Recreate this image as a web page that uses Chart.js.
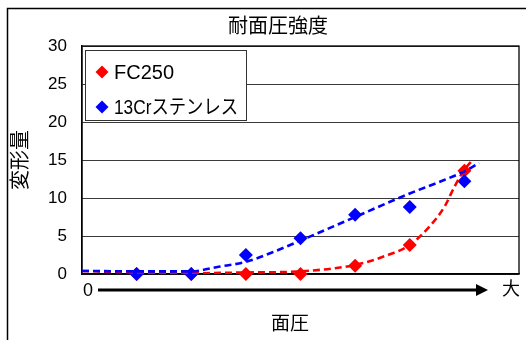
<!DOCTYPE html>
<html>
<head>
<meta charset="utf-8">
<script src="https://cdn.jsdelivr.net/npm/chart.js@4/dist/chart.umd.min.js"></script>
<style>
  html, body { margin: 0; padding: 0; background: #fff; }
  #wrap { width: 526px; height: 340px; }
</style>
</head>
<body>
<div id="wrap"><canvas id="c" width="526" height="340"></canvas></div>
<script>
// Pressure steps (x) and measured deformation (y)
const pressureSteps = [1, 2, 3, 4, 5, 6, 7];
const fc250Values   = [0, 0, 0, 0, 1.1, 3.8, 13.6];
const sus13crValues = [0, 0, 2.5, 4.7, 7.8, 8.8, 12.2];

// Trend curves (dashed) sampled along each fit
const fc250TrendX   = [0, 1, 2, 3, 4, 5, 5.6, 6, 6.38, 6.64, 6.82, 7, 7.15];
const fc250TrendY   = [0.4, 0.2, 0.1, 0.2, 0.35, 1.2, 2.5, 3.8, 6.4, 8.9, 11.5, 13.7, 15];
const sus13crTrendX = [0, 1, 2, 2.5, 3, 3.5, 4, 5, 6, 6.5, 7, 7.27];
const sus13crTrendY = [0.4, 0.35, 0.35, 0.95, 1.6, 2.9, 4.4, 7.5, 10.6, 12.0, 13.5, 14.6];

const yTicks = [0, 5, 10, 15, 20, 25, 30];
const seriesNames = ['FC250', '13Crステンレス'];
const chartTitle = '耐面圧強度';
const yTitle = '変形量';
const xTitle = '面圧';
const xStart = '0';
const xEnd = '大';

const RED = '#ff0000';
const BLUE = '#0000ff';
const FONT = '"Liberation Sans", "Noto Sans CJK JP", sans-serif';

const pts = (xs, ys) => xs.map((x, i) => ({ x, y: ys[i] }));

// Frame, titles, axis arrow and boxed legend
const decorations = {
  id: 'decorations',
  beforeDatasetsDraw(chart) {
    const { ctx, chartArea: a } = chart;
    ctx.save();
    ctx.strokeStyle = '#000';
    ctx.lineWidth = 1.3;
    ctx.strokeRect(a.left, a.top, a.right - a.left, a.bottom - a.top);
    ctx.restore();
  },
  afterDraw(chart) {
    const { ctx } = chart;
    ctx.save();
    // outer chart frame
    ctx.strokeStyle = '#000';
    ctx.lineWidth = 1.5;
    ctx.strokeRect(7.5, 8.5, 700, 500);

    ctx.fillStyle = '#000';
    ctx.textAlign = 'center';
    ctx.textBaseline = 'middle';
    ctx.font = '20px ' + FONT;
    ctx.fillText(chartTitle, 278, 27);

    ctx.font = '19px ' + FONT;
    ctx.fillText(xTitle, 290, 325);

    ctx.save();
    ctx.translate(21, 160);
    ctx.rotate(-Math.PI / 2);
    ctx.font = '20px ' + FONT;
    ctx.fillText(yTitle, 0, 0);
    ctx.restore();

    // x direction arrow: 0 → 大
    ctx.font = '18px ' + FONT;
    ctx.fillText(xStart, 88, 291);
    ctx.fillText(xEnd, 511, 290);
    ctx.lineWidth = 3;
    ctx.beginPath();
    ctx.moveTo(98, 290);
    ctx.lineTo(478, 290);
    ctx.stroke();
    ctx.beginPath();
    ctx.moveTo(476, 284);
    ctx.lineTo(488, 290);
    ctx.lineTo(476, 296);
    ctx.closePath();
    ctx.fill();

    // legend box
    const lx = 85.5, ly = 50.5, lw = 161, lh = 70;
    ctx.fillStyle = '#fff';
    ctx.fillRect(lx, ly, lw, lh);
    ctx.strokeStyle = '#333';
    ctx.lineWidth = 1;
    ctx.strokeRect(lx, ly, lw, lh);
    const entries = [
      { label: chart.data.datasets[2].label, color: chart.data.datasets[2].backgroundColor, y: 72 },
      { label: chart.data.datasets[3].label, color: chart.data.datasets[3].backgroundColor, y: 107 }
    ];
    ctx.textAlign = 'left';
    ctx.font = '20px ' + FONT;
    entries.forEach(e => {
      ctx.fillStyle = e.color;
      ctx.beginPath();
      ctx.moveTo(102, e.y - 6.5);
      ctx.lineTo(108.5, e.y);
      ctx.lineTo(102, e.y + 6.5);
      ctx.lineTo(95.5, e.y);
      ctx.closePath();
      ctx.fill();
      ctx.fillStyle = '#000';
      ctx.fillText(e.label, 114, e.y + 1, 124);
    });
    ctx.restore();
  }
};

new Chart(document.getElementById('c'), {
  type: 'scatter',
  data: {
    datasets: [
      {
        label: seriesNames[1] + ' trend',
        data: pts(sus13crTrendX, sus13crTrendY),
        showLine: true, pointRadius: 0, borderColor: BLUE, borderWidth: 2.6,
        borderDash: [7, 4], cubicInterpolationMode: 'monotone', order: 0
      },
      {
        label: seriesNames[0] + ' trend',
        data: pts(fc250TrendX, fc250TrendY),
        showLine: true, pointRadius: 0, borderColor: RED, borderWidth: 2.6,
        borderDash: [7, 4], cubicInterpolationMode: 'monotone', order: 1
      },
      {
        label: seriesNames[0],
        data: pts(pressureSteps, fc250Values),
        pointStyle: 'rectRot', pointRadius: 7, backgroundColor: RED, borderColor: RED,
        borderWidth: 0, order: 3, clip: false
      },
      {
        label: seriesNames[1],
        data: pts(pressureSteps, sus13crValues),
        pointStyle: 'rectRot', pointRadius: 7, backgroundColor: BLUE, borderColor: BLUE,
        borderWidth: 0, order: 2, clip: false
      }
    ]
  },
  options: {
    responsive: false,
    animation: false,
    events: [],
    layout: { padding: { left: 0, top: 46, right: 3, bottom: 0 } },
    plugins: { legend: { display: false }, title: { display: false }, tooltip: { enabled: false } },
    scales: {
      x: {
        type: 'linear', min: 0, max: 8,
        ticks: { display: false },
        grid: { display: false },
        border: { display: true, color: '#000', width: 1.3 },
        afterFit(scale) { scale.height = 66; }
      },
      y: {
        type: 'linear', min: 0, max: 30,
        afterBuildTicks(scale) { scale.ticks = yTicks.map(v => ({ value: v })); },
        ticks: { color: '#000', padding: 15, font: { family: FONT, size: 17 } },
        grid: { color: '#3a3a3a', lineWidth: 1, drawTicks: false },
        border: { display: true, color: '#000', width: 1.3 },
        afterFit(scale) { scale.width = 82; }
      }
    }
  },
  plugins: [decorations]
});
</script>
</body>
</html>
